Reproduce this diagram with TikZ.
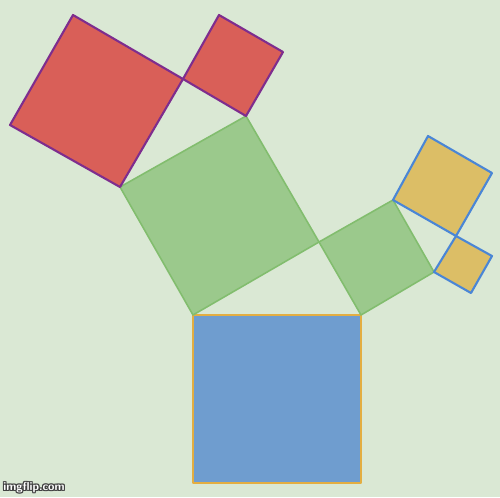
\documentclass[tikz,border=0pt]{standalone}
\usepackage{tikz}
\definecolor{bgcol}{HTML}{DAE8D4}
\definecolor{redfill}{HTML}{D95F58}
\definecolor{redline}{HTML}{7E2D8E}
\definecolor{greenfill}{HTML}{9BC98C}
\definecolor{greenline}{HTML}{82BD6E}
\definecolor{bluefill}{HTML}{6F9DCF}
\definecolor{blueline}{HTML}{E3AE42}
\definecolor{yellowfill}{HTML}{DCBE66}
\definecolor{yellowline}{HTML}{4A86D6}

\begin{document}
\begin{tikzpicture}[x=0.02cm, y=-0.02cm, line join=round,
  redsq/.style={fill=redfill, draw=redline, line width=1.2pt},
  greensq/.style={fill=greenfill, draw=greenline, line width=0.9pt},
  bluesq/.style={fill=bluefill, draw=blueline, line width=1.2pt},
  yellowsq/.style={fill=yellowfill, draw=yellowline, line width=1.2pt},
  wmark/.style={anchor=west, inner sep=0pt, font=\sffamily\bfseries\fontsize{6.6}{7}\selectfont}]
  % background, pixel frame of the picture
  \fill[bgcol] (0,0) rectangle (500,497);
  \useasboundingbox (0,0) rectangle (500,497);

  % corners, in pixel coords (y goes down)
  \coordinate (b1) at (193,315);
  \coordinate (b2) at (361,315);
  \coordinate (b3) at (361,483);
  \coordinate (b4) at (193,483);
  \coordinate (g1) at (120,187);
  \coordinate (g2) at (246,116);
  \coordinate (g3) at (319,242);
  \coordinate (h1) at (393,200);
  \coordinate (h2) at (434,272);
  \coordinate (r1) at (10,125);
  \coordinate (r2) at (73,15);
  \coordinate (r3) at (183,79);
  \coordinate (s1) at (219,15);
  \coordinate (s2) at (283,52);
  \coordinate (y1) at (428,136);
  \coordinate (y2) at (492,173);
  \coordinate (y3) at (456,236);
  \coordinate (t1) at (492,256);
  \coordinate (t2) at (471,293);

  % trunk
  \draw[bluesq] (b1) -- (b2) -- (b3) -- (b4) -- cycle;

  % green branches
  \draw[greensq] (b1) -- (g1) -- (g2) -- (g3) -- cycle;
  \draw[greensq] (g3) -- (h1) -- (h2) -- (b2) -- cycle;

  % red leaves
  \draw[redsq] (g1) -- (r1) -- (r2) -- (r3) -- cycle;
  \draw[redsq] (r3) -- (s1) -- (s2) -- (g2) -- cycle;

  % yellow leaves
  \draw[yellowsq] (h1) -- (y1) -- (y2) -- (y3) -- cycle;
  \draw[yellowsq] (y3) -- (t1) -- (t2) -- (h2) -- cycle;

  % watermark, dark rim then white letters
  \foreach \dx/\dy in {-1/0, 1/0, 0/-1, 0/1, -1/-1, 1/1, -1/1, 1/-1}
    \node[wmark, text=black!75] at (3+\dx,488+\dy) {imgflip.com};
  \node[wmark, text=white] (wm) at (3,488) {imgflip.com};
\end{tikzpicture}
\end{document}
